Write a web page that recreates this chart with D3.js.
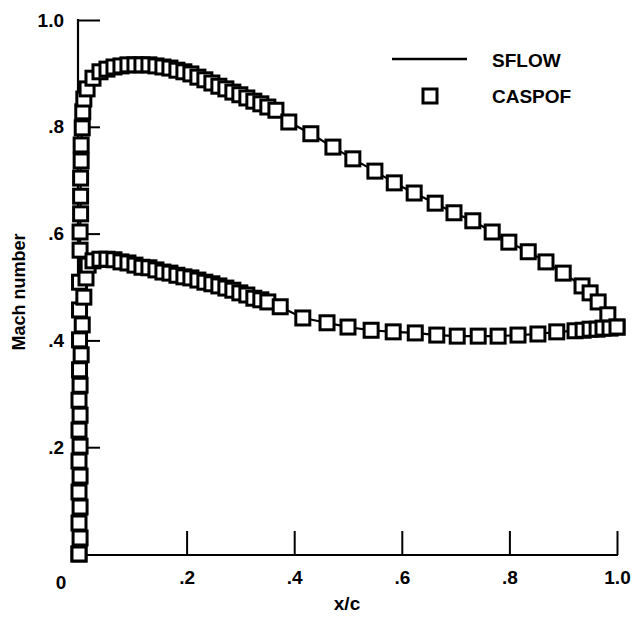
<!DOCTYPE html>
<html>
<head>
<meta charset="utf-8">
<script src="https://cdn.jsdelivr.net/npm/d3@7"></script>
<style>
  body { margin: 0; background: #fff; }
  text { font-family: "Liberation Sans", Arial, sans-serif; font-weight: bold; fill: #000; }
</style>
</head>
<body>
<script>
// upper surface (x/c, Mach)
let upperX = [0.000, 0.000, 0.000, 0.000, 0.000, 0.000, 0.001, 0.001, 0.001, 0.001,
  0.002, 0.002, 0.003, 0.003, 0.003, 0.004, 0.004, 0.006, 0.007, 0.009, 0.015,
  0.026, 0.039, 0.052, 0.065, 0.078, 0.091, 0.104, 0.117, 0.130, 0.143, 0.156,
  0.169, 0.182, 0.195, 0.208, 0.221, 0.234, 0.247, 0.260, 0.273, 0.286, 0.299,
  0.312, 0.325, 0.338, 0.351, 0.366, 0.390, 0.431, 0.472, 0.509, 0.550, 0.586,
  0.623, 0.662, 0.697, 0.732, 0.768, 0.799, 0.835, 0.868, 0.900, 0.935, 0.950,
  0.965, 0.983, 1.000];
let upperM = [0.000, 0.058, 0.116, 0.174, 0.232, 0.288, 0.345, 0.401, 0.457, 0.509,
  0.569, 0.603, 0.637, 0.670, 0.704, 0.736, 0.766, 0.798, 0.828, 0.852, 0.871,
  0.891, 0.903, 0.908, 0.912, 0.914, 0.916, 0.916, 0.916, 0.916, 0.914, 0.912,
  0.910, 0.906, 0.903, 0.899, 0.893, 0.888, 0.882, 0.876, 0.871, 0.865, 0.860,
  0.854, 0.848, 0.843, 0.837, 0.831, 0.809, 0.787, 0.762, 0.740, 0.717, 0.695,
  0.676, 0.657, 0.639, 0.624, 0.603, 0.584, 0.566, 0.547, 0.526, 0.502, 0.489,
  0.472, 0.448, 0.425];

// lower surface (x/c, Mach)
let lowerX = [0.000, 0.002, 0.002, 0.002, 0.002, 0.002, 0.002, 0.004, 0.006, 0.009, 0.013, 0.017,
  0.026, 0.039, 0.052, 0.065, 0.078, 0.091, 0.104, 0.117, 0.130, 0.143, 0.156,
  0.169, 0.182, 0.195, 0.208, 0.221, 0.234, 0.247, 0.260, 0.273, 0.286, 0.299,
  0.312, 0.325, 0.338, 0.351, 0.374, 0.416, 0.461, 0.500, 0.543, 0.584, 0.625,
  0.665, 0.703, 0.742, 0.779, 0.816, 0.853, 0.888, 0.922, 0.937, 0.950, 0.963,
  0.974, 0.987, 1.000];
let lowerM = [0.000, 0.030, 0.088, 0.146, 0.202, 0.260, 0.316, 0.373, 0.429, 0.481, 0.517, 0.541,
  0.549, 0.552, 0.552, 0.551, 0.547, 0.545, 0.541, 0.537, 0.536, 0.532, 0.528,
  0.526, 0.522, 0.519, 0.517, 0.513, 0.509, 0.506, 0.502, 0.498, 0.494, 0.489,
  0.485, 0.479, 0.476, 0.472, 0.463, 0.442, 0.433, 0.425, 0.419, 0.416, 0.414,
  0.410, 0.408, 0.408, 0.408, 0.410, 0.412, 0.416, 0.418, 0.419, 0.421, 0.421,
  0.423, 0.423, 0.425];

let xTicks = [0.2, 0.4, 0.6, 0.8, 1.0];
let xTickLabels = [".2", ".4", ".6", ".8", "1.0"];
let yTicks = [0.2, 0.4, 0.6, 0.8, 1.0];
let yTickLabels = [".2", ".4", ".6", ".8", "1.0"];
let seriesNames = ["SFLOW", "CASPOF"];

let width = 634, height = 617;

let svg = d3.select('body').append('svg')
    .attr('width', width)
    .attr('height', height);

let x = d3.scaleLinear().domain([0, 1]).range([79, 617]);
let y = d3.scaleLinear().domain([0, 1]).range([554, 20]);

// axes
let xAxis = d3.axisBottom(x)
    .tickValues(xTicks)
    .tickFormat((d, i) => xTickLabels[i])
    .tickSizeInner(-24)
    .tickSizeOuter(0)
    .tickPadding(16);

let yAxis = d3.axisLeft(y)
    .tickValues(yTicks)
    .tickFormat((d, i) => yTickLabels[i])
    .tickSizeInner(-22)
    .tickSizeOuter(0)
    .tickPadding(14);

let gx = svg.append('g').attr('transform', 'translate(0,555)').call(xAxis);
let gy = svg.append('g').attr('transform', 'translate(78,0)').call(yAxis);

[gx, gy].forEach(g => {
    g.select('.domain').attr('stroke', '#000').attr('stroke-width', 2.2);
    g.selectAll('.tick line').attr('stroke', '#000').attr('stroke-width', 2);
    g.selectAll('.tick text')
        .attr('font-family', '"Liberation Sans", Arial, sans-serif')
        .attr('font-weight', 'bold')
        .attr('font-size', 19)
        .attr('fill', '#000');
});
gy.select('.domain').attr('d', 'M0,555V19');
gx.select('.domain').attr('d', 'M78,0H618');

// origin label
svg.append('text').text('0')
    .attr('x', 61).attr('y', 589)
    .attr('text-anchor', 'middle')
    .attr('font-size', 19);

// axis titles
svg.append('text').text('x/c')
    .attr('x', 347).attr('y', 610)
    .attr('text-anchor', 'middle')
    .attr('font-size', 19);

svg.append('text').text('Mach number')
    .attr('transform', 'translate(25,292) rotate(-90)')
    .attr('text-anchor', 'middle')
    .attr('font-size', 18);

// SFLOW lines
let line = d3.line().x(d => x(d[0])).y(d => y(d[1]));
let upper = upperX.map((v, i) => [v, upperM[i]]);
let lower = lowerX.map((v, i) => [v, lowerM[i]]);

svg.selectAll('path.sflow').data([upper, lower]).enter().append('path')
    .attr('class', 'sflow')
    .attr('d', line)
    .attr('fill', 'none')
    .attr('stroke', '#000')
    .attr('stroke-width', 2.2);

// CASPOF squares
let sq = 14;
svg.selectAll('rect.caspof').data(upper.concat(lower)).enter().append('rect')
    .attr('class', 'caspof')
    .attr('x', d => x(d[0]) - sq / 2)
    .attr('y', d => y(d[1]) - sq / 2)
    .attr('width', sq)
    .attr('height', sq)
    .attr('fill', '#fff')
    .attr('stroke', '#000')
    .attr('stroke-width', 3);

// legend
svg.append('line')
    .attr('x1', 392).attr('x2', 467)
    .attr('y1', 59).attr('y2', 59)
    .attr('stroke', '#000').attr('stroke-width', 2.5);
svg.append('rect')
    .attr('x', 430 - sq / 2).attr('y', 96 - sq / 2)
    .attr('width', sq).attr('height', sq)
    .attr('fill', '#fff').attr('stroke', '#000').attr('stroke-width', 3);
svg.selectAll('text.legend').data(seriesNames).enter().append('text')
    .attr('class', 'legend')
    .text(d => d)
    .attr('x', 492)
    .attr('y', (d, i) => 67 + i * 36)
    .attr('font-size', 19);
</script>
</body>
</html>
